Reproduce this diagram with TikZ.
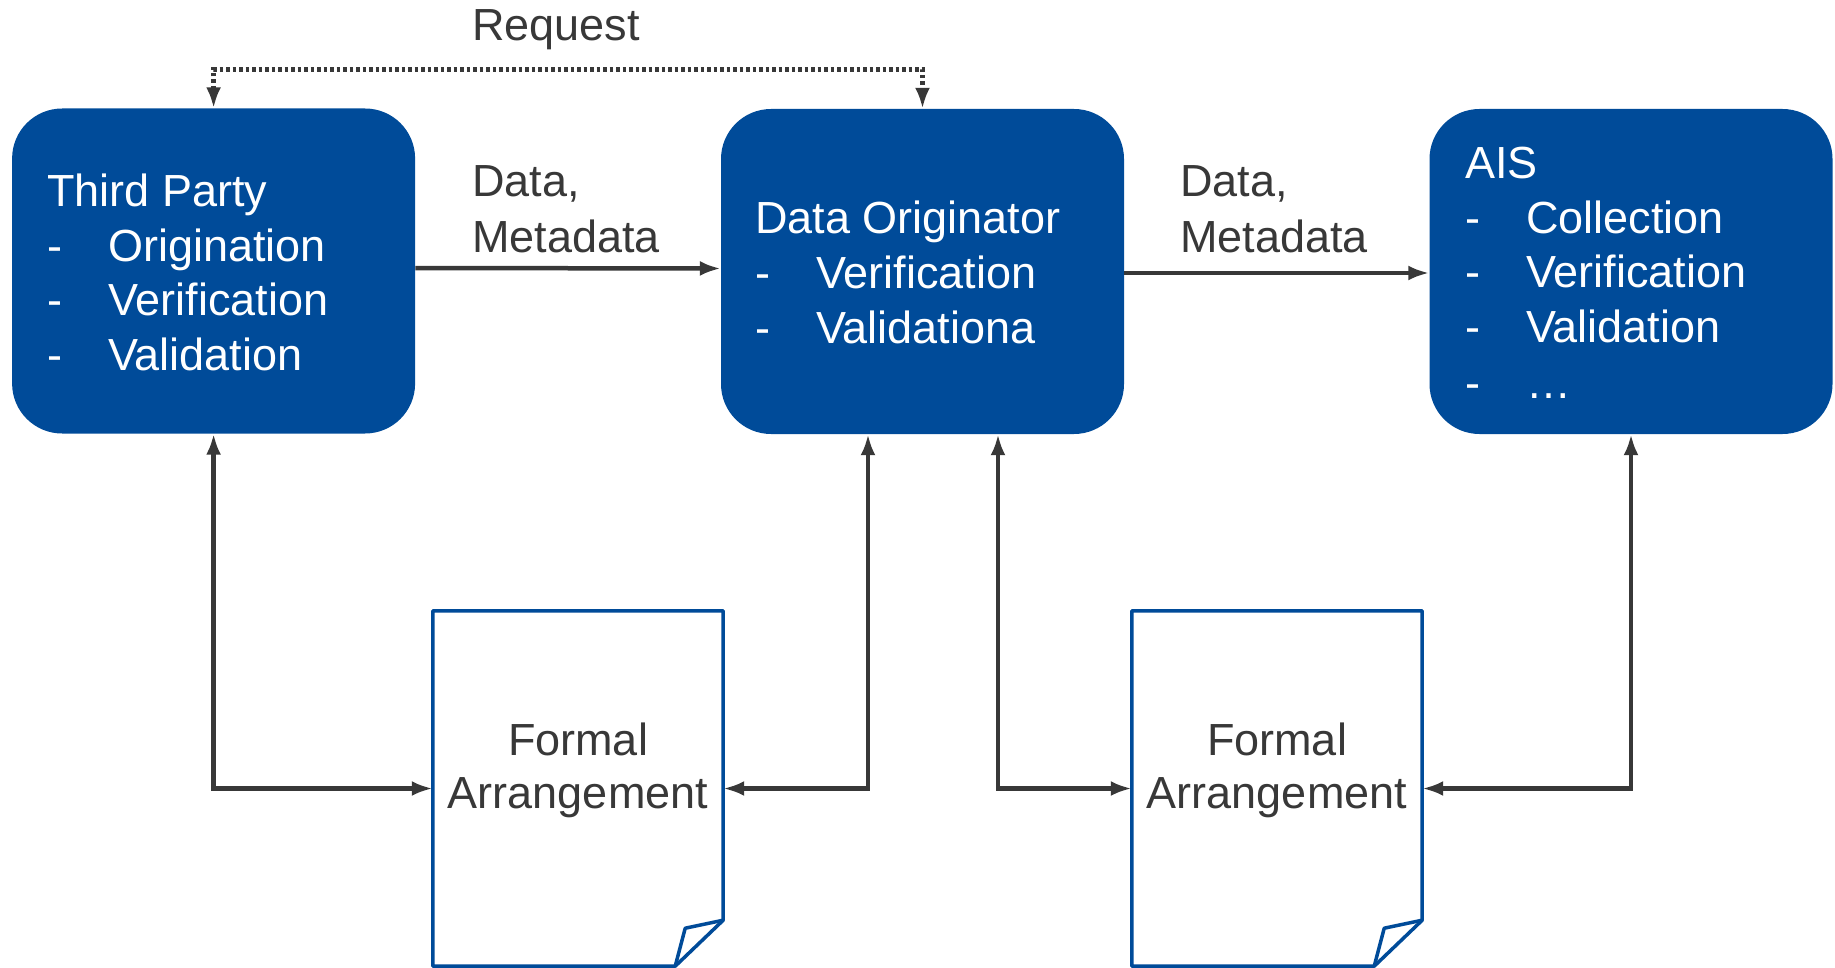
\documentclass[tikz,border=0pt]{standalone}
\usepackage{fontspec}
\setmainfont{Liberation Sans}
\usetikzlibrary{arrows.meta}
\definecolor{boxblue}{RGB}{0,75,153}
\definecolor{txtgray}{RGB}{56,56,56}
\newcommand\itm{\makebox[61pt][l]{-}}
\begin{document}
\begin{tikzpicture}[x=1pt,y=-1pt,
  bluebox/.style={fill=boxblue, draw=none, rounded corners=50pt, minimum width=403pt, minimum height=325pt, inner sep=0pt},
  boxtext/.style={text=white, inner sep=0pt, anchor=base west, font=\fontsize{45}{54.5}\selectfont},
  lbl/.style={text=txtgray, inner sep=0pt, font=\fontsize{45}{55}\selectfont},
  docshape/.style={draw=none, fill=white, minimum width=290pt, minimum height=355pt, inner sep=0pt},
  docline/.style={draw=boxblue, line width=3.5pt, line join=round},
  tip/.style={Latex[length=21pt,width=15pt]},
  conn/.style={draw=txtgray, line width=4.5pt, {Latex[length=21pt,width=15pt]}-{Latex[length=21pt,width=15pt]}},
  flow/.style={draw=txtgray, line width=4.5pt, -{Latex[length=21pt,width=15pt]}},
  reqline/.style={draw=txtgray, line width=4.5pt, dash pattern=on 3.5pt off 3pt, {Latex[length=21pt,width=15pt]}-{Latex[length=21pt,width=15pt]}}
]
\useasboundingbox (0,0) rectangle (1835,968);

% boxes
\node[bluebox] (tp) at (213.6,271) {};
\node[bluebox] (do) at (922.5,271.5) {};
\node[bluebox] (ais) at (1631,271.5) {};

\node[boxtext] (tptext) at (47,207) {\begin{tabular}[t]{@{}l@{}}Third Party\\ \itm Origination\\ \itm Verification\\ \itm Validation\end{tabular}};
\node[boxtext] (dotext) at (755,234) {\begin{tabular}[t]{@{}l@{}}Data Originator\\ \itm Verification\\ \itm Validationa\end{tabular}};
\node[boxtext] (aistext) at (1465,179) {\begin{tabular}[t]{@{}l@{}}AIS\\ \itm Collection\\ \itm Verification\\ \itm Validation\\[1.5pt] \itm …\end{tabular}};

% documents
\node[docshape] (lfa) at (578,788.5) {};
\node[docshape] (rfa) at (1277,788.5) {};
\foreach \d in {lfa,rfa}{
  \draw[docline] (\d.north west) -- (\d.north east) -- ([yshift=46pt]\d.south east) -- ([xshift=-48pt]\d.south east) -- (\d.south west) -- cycle;
  \draw[docline] ([xshift=-48pt]\d.south east) -- ++(10,-38) -- ([yshift=46pt]\d.south east);
}
\node[lbl, anchor=base] (lfatext) at (578,755) {\fontsize{45}{53}\selectfont\begin{tabular}[t]{@{}c@{}}Formal\\ Arrangement\end{tabular}};
\node[lbl, anchor=base] (rfatext) at (1277,755) {\fontsize{45}{53}\selectfont\begin{tabular}[t]{@{}c@{}}Formal\\ Arrangement\end{tabular}};

% labels
\node[lbl, anchor=base] (req) at (556,41) {Request};
\node[lbl, anchor=base west] (dm1) at (472,197) {\begin{tabular}[t]{@{}l@{}}Data,\\ Metadata\end{tabular}};
\node[lbl, anchor=base west] (dm2) at (1180,197) {\begin{tabular}[t]{@{}l@{}}Data,\\ Metadata\end{tabular}};

% connectors
\draw[reqline] (tp.north) -- ++(0,-39) -| (do.north);
\draw[flow] ([yshift=3pt]tp.east) -- ([yshift=3pt]do.west);
\draw[flow] ([yshift=-1.5pt]do.east) -- ([yshift=-1.5pt]ais.west);
\draw[conn] (tp.south) |- (lfa.west);
\draw[conn] ([xshift=-54.5pt]do.south) |- (lfa.east);
\draw[conn] ([xshift=75.5pt]do.south) |- (rfa.west);
\draw[conn] (ais.south) |- (rfa.east);
\end{tikzpicture}
\end{document}
